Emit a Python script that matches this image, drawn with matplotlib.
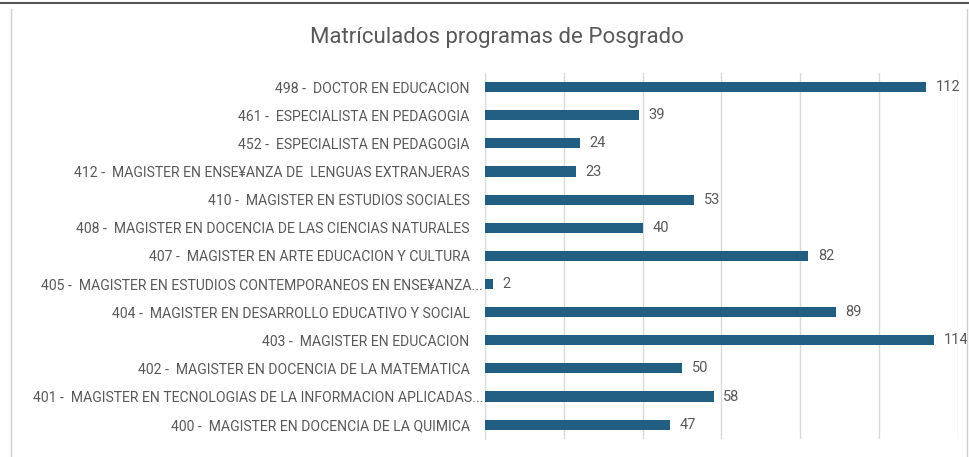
import matplotlib.pyplot as plt
from matplotlib.lines import Line2D

# data (top to bottom as in the chart)
programas = [
    "498 -  DOCTOR EN EDUCACION",
    "461 -  ESPECIALISTA EN PEDAGOGIA",
    "452 -  ESPECIALISTA EN PEDAGOGIA",
    "412 -  MAGISTER EN ENSE¥ANZA DE  LENGUAS EXTRANJERAS",
    "410 -  MAGISTER EN ESTUDIOS SOCIALES",
    "408 -  MAGISTER EN DOCENCIA DE LAS CIENCIAS NATURALES",
    "407 -  MAGISTER EN ARTE EDUCACION Y CULTURA",
    "405 -  MAGISTER EN ESTUDIOS CONTEMPORANEOS EN ENSE¥ANZA...",
    "404 -  MAGISTER EN DESARROLLO EDUCATIVO Y SOCIAL",
    "403 -  MAGISTER EN EDUCACION",
    "402 -  MAGISTER EN DOCENCIA DE LA MATEMATICA",
    "401 -  MAGISTER EN TECNOLOGIAS DE LA INFORMACION APLICADAS...",
    "400 -  MAGISTER EN DOCENCIA DE LA QUIMICA",
]
matriculados = [112, 39, 24, 23, 53, 40, 82, 2, 89, 114, 50, 58, 47]

bar_color = "#215E82"
text_gray = "#595959"
font = "Roboto"

fig = plt.figure(figsize=(9.7, 4.57), dpi=100)
ax = fig.add_axes([0.5, 0.04, 0.4876, 0.80])

pos = list(range(len(programas)))
ax.barh(pos, matriculados, height=0.36, color=bar_color, zorder=3)
ax.set_ylim(len(programas) - 0.5, -0.5)
ax.set_xlim(0, 120)
ax.set_xticks(range(0, 121, 20))
ax.set_xticklabels([])
ax.tick_params(axis="x", length=0)
ax.grid(axis="x", color="#D9D9D9", linewidth=1, zorder=0)

ax.set_yticks(pos)
ax.set_yticklabels(programas, fontsize=10.1, color=text_gray, family=font)
ax.tick_params(axis="y", length=0)
for tick, lab in zip(ax.yaxis.get_major_ticks(), programas):
    tick.set_pad(1.5 if lab.endswith("...") else 11)

for y, v in zip(pos, matriculados):
    ax.annotate(str(v), (v, y), xytext=(7, 0), textcoords="offset points",
                va="center", ha="left", fontsize=10.5, color=text_gray, family=font)

for s in ["top", "right", "bottom"]:
    ax.spines[s].set_visible(False)
ax.spines["left"].set_color("#D9D9D9")

fig.suptitle("Matrículados programas de Posgrado", x=0.512, y=0.94,
             fontsize=16, color=text_gray, family=font)

# outer frame of the screenshot
fig.add_artist(Line2D([0, 1], [0.994, 0.994], color="#555555", linewidth=1.5))
fig.add_artist(Line2D([0.011, 0.011], [0, 0.98], color="#D0D0D0", linewidth=1))
fig.add_artist(Line2D([0.997, 0.997], [0, 0.98], color="#D0D0D0", linewidth=1))

fig.savefig("out.png", dpi=100)
